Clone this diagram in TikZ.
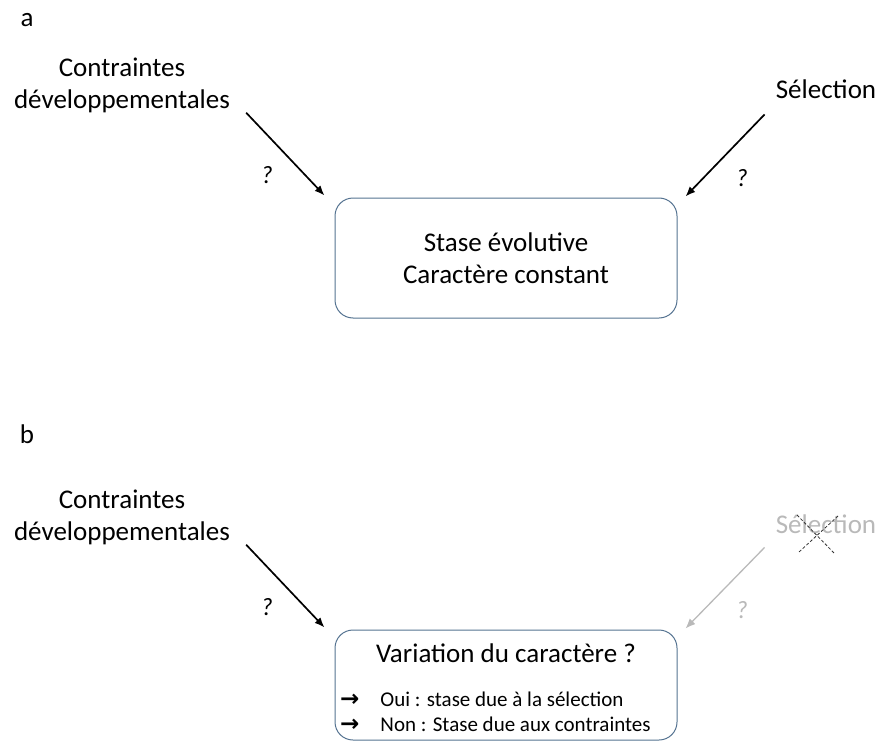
\documentclass[tikz,border=0pt]{standalone}
\usepackage{fontspec}
\setmainfont{Carlito}
\newfontfamily\pfeilfont{DejaVu Sans}
\usetikzlibrary{arrows.meta,calc}
\definecolor{rahmen}{RGB}{85,115,145}
\definecolor{grau}{RGB}{185,185,185}
\newcommand{\puce}{{\pfeilfont\bfseries\fontsize{23}{23}\selectfont →}}

\begin{document}
\begin{tikzpicture}[x=1pt, y=-1pt,
	txt/.style={font=\fontsize{27}{32}\selectfont, inner sep=0pt},
	frage/.style={font=\fontsize{25}{28}\selectfont\itshape, inner sep=0pt},
	liste/.style={font=\fontsize{21}{25}\selectfont, inner sep=0pt, anchor=base west},
	pfeil/.style={-{Latex[length=10pt,width=8pt]}, line width=1.7pt},
	kreuz/.style={black!80, line width=0.8pt, dash pattern=on 3pt off 2pt},
	boite/.style={draw=rahmen, line width=1pt, rounded corners=18pt, minimum width=342pt}]
	\useasboundingbox (0,0) rectangle (880,749);

	% a
	\node[txt, anchor=base] (la) at (27,27) {a};
	\node[txt, align=center] (contrA) at (122,85) {Contraintes\\développementales};
	\node[txt, anchor=base] (selA) at (826,99) {Sélection};
	\node[boite, txt, align=center, minimum height=120pt] (boxA) at (506,258) {Stase évolutive\\Caractère constant};
	\draw[pfeil] ($(contrA.south east)+(16,0)$) -- ($(boxA.north west)+(-10,-2)$);
	\draw[pfeil] ($(selA.south west)+(-11,15)$) -- ($(boxA.north east)+(8,-1)$);
	\node[frage] (qA1) at (267,175) {?};
	\node[frage] (qA2) at (742,178) {?};

	% b
	\node[txt, anchor=base] (lb) at (27,443) {b};
	\node[txt, align=center] (contrB) at (122,517) {Contraintes\\développementales};
	\node[txt, anchor=base, text=grau] (selB) at (826,533) {Sélection};
	\node[boite, minimum height=110pt] (boxB) at (506,685) {};
	\node[txt, anchor=base] (titre) at (506,662) {Variation du caractère ?};
	\node[liste] (oui) at (340,706) {\puce\hspace{21pt}Oui : stase due à la sélection};
	\node[liste] (non) at (340,731) {\puce\hspace{21pt}Non : Stase due aux contraintes};
	\draw[pfeil] ($(contrB.south east)+(16,0)$) -- ($(boxB.north west)+(-10,-2)$);
	\draw[pfeil, grau, line width=1.3pt] ($(selB.south west)+(-11,14)$) -- ($(boxB.north east)+(8,-1)$);
	\node[frage] (qB1) at (267,607) {?};
	\node[frage, text=grau] (qB2) at (742,610) {?};
	\draw[kreuz] (797,515) -- (834,553);
	\draw[kreuz] (838,516) -- (799,552);

\end{tikzpicture}
\end{document}
